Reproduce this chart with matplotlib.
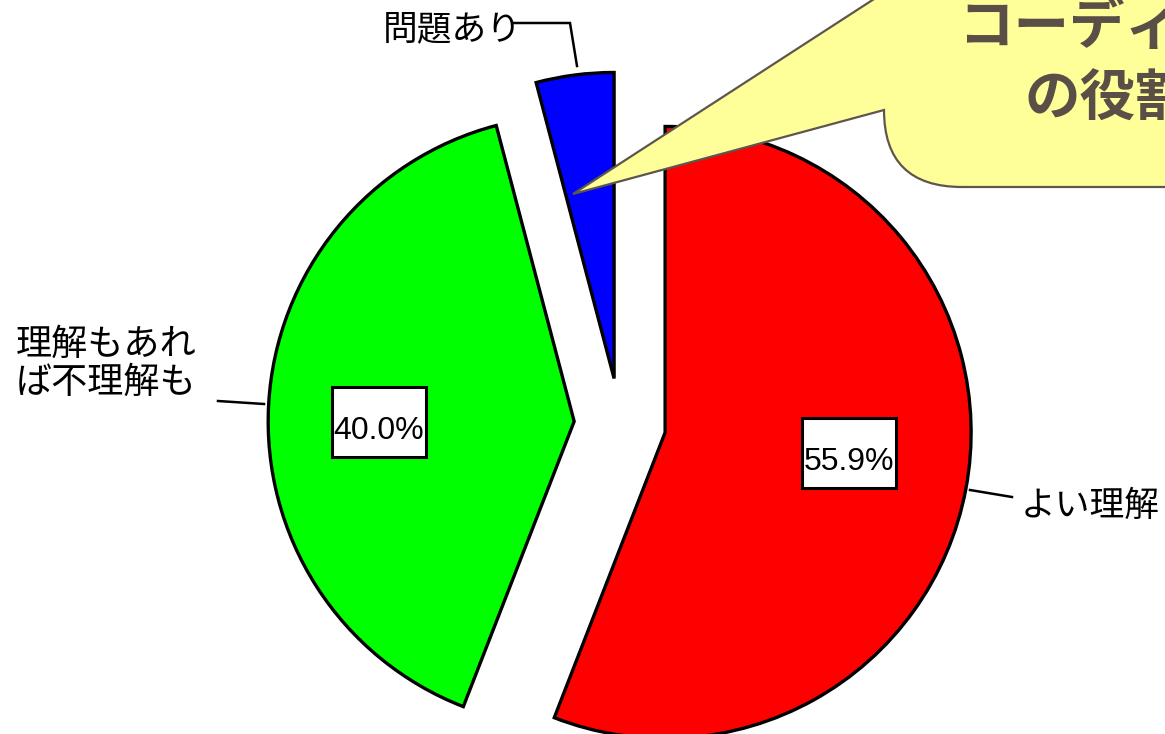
import matplotlib
matplotlib.use("Agg")
import matplotlib.pyplot as plt
from matplotlib.patches import Rectangle, PathPatch
from matplotlib.path import Path

plt.rcParams['font.family'] = ['Noto Sans CJK JP', 'DejaVu Sans']

# --- data -------------------------------------------------------------
categories = ['よい理解', '理解もあれ\nば不理解も', '問題あり']
shares = [55.9, 40.0, 4.1]
slice_colors = ['#FF0000', '#00FF00', '#0000FF']
callout_lines = ['コーディネーター', 'の役割']

# --- canvas in pixel units (y measured downward from the top) -------------
W, H = 1165, 734


def P(x, y):
    return (x, H - y)


fig = plt.figure(figsize=(W / 100, H / 100), dpi=100)
ax = fig.add_axes([0, 0, 1, 1])

radius = 306
# pie() offsets exploded wedges in data units, so scale by the radius
explode = [0.15 * radius] * len(shares)

wedges, _, pct_texts = ax.pie(
    shares,
    explode=explode,
    colors=slice_colors,
    startangle=90,
    counterclock=False,
    radius=radius,
    center=P(620, 424),
    autopct=lambda p: f'{p:.1f}%' if p >= 10 else '',
    pctdistance=0.62,
    wedgeprops=dict(edgecolor='black', linewidth=2.4, joinstyle='miter'),
)

ax.set_xlim(0, W)
ax.set_ylim(0, H)
ax.set_aspect('auto')
ax.axis('off')

# percentage labels in white framed boxes
pct_anchor = [P(849, 462), P(379, 431), None]
for txt, anchor in zip(pct_texts, pct_anchor):
    if not txt.get_text() or anchor is None:
        continue
    txt.set_position(anchor)
    txt.set_fontsize(23)
    txt.set_family(['Liberation Sans', 'DejaVu Sans'])
    txt.set_color('black')
    txt.set_zorder(6)
    bx, by = anchor
    ax.add_patch(Rectangle((bx - 47, by - 26), 94, 70, facecolor='white',
                           edgecolor='black', linewidth=2.2, zorder=5))

# category labels with leader lines
label_style = dict(color='black', va='center', ha='left', zorder=6)
ax.text(*P(1021, 506), categories[0], fontsize=25, **label_style)
ax.text(*P(16, 364), categories[1], fontsize=26, linespacing=1.08,
        **label_style)
ax.text(*P(383, 30), categories[2], fontsize=25, **label_style)

leader_style = dict(color='black', linewidth=1.8, zorder=4,
                    solid_joinstyle='miter')
for pts in ([P(970, 490), P(1012, 497)],
            [P(218, 401), P(264, 404)],
            [P(513, 23), P(570, 23), P(577, 66)]):
    xs, ys = zip(*pts)
    ax.plot(xs, ys, **leader_style)

# speech-bubble callout pointing at the small slice
verts = [P(573, 194), P(884, 110), P(884, 187), P(962, 187),
         P(1300, 187), P(1300, -80), P(996, -80), P(573, 194)]
codes = [Path.MOVETO, Path.LINETO, Path.CURVE3, Path.CURVE3,
         Path.LINETO, Path.LINETO, Path.LINETO, Path.CLOSEPOLY]
ax.add_patch(PathPatch(Path(verts, codes), facecolor='#FFFF99',
                       edgecolor='#5E554D', linewidth=1.6, zorder=7))

callout_style = dict(fontsize=40, fontweight='bold', color='#5A4F46',
                     ha='left', va='center', zorder=8)
ax.text(*P(958, 28), callout_lines[0], **callout_style)
ax.text(*P(1024, 100), callout_lines[1], **callout_style)

fig.savefig('out.png', dpi=100)
